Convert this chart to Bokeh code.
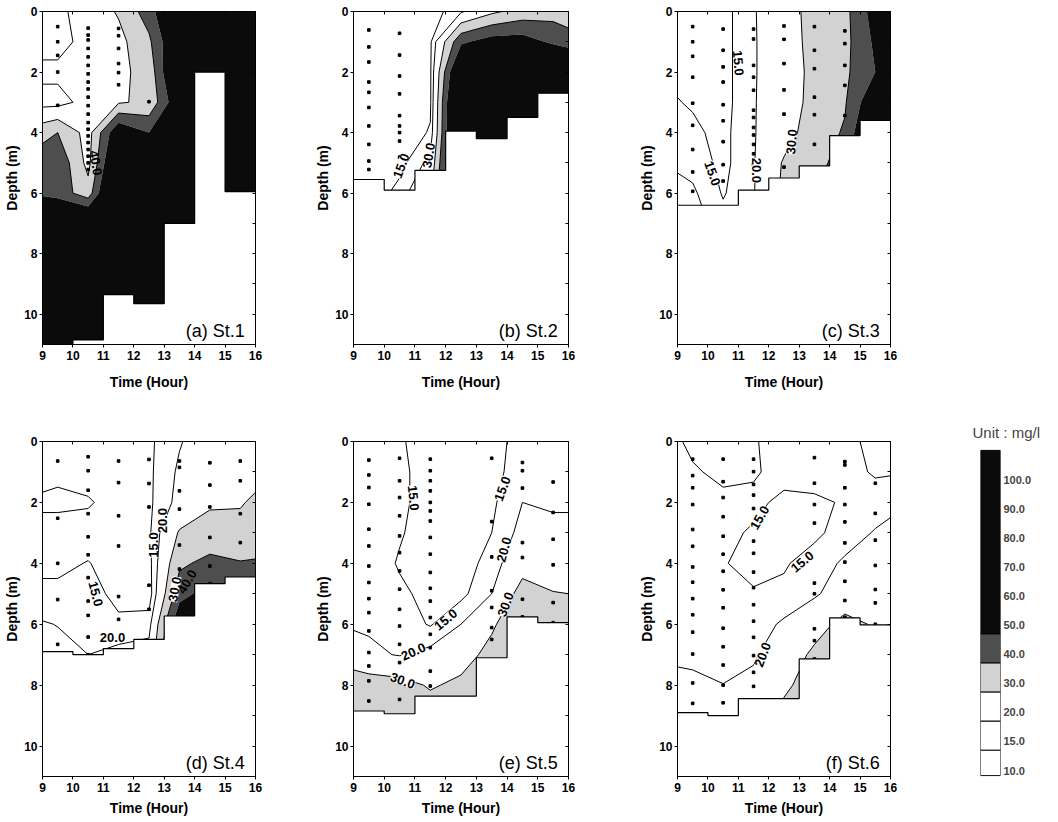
import numpy as np
from bokeh.plotting import figure
from bokeh.models import Range1d, LinearAxis, FixedTicker, Label, ColumnDataSource
from bokeh.layouts import row, column
from bokeh.embed import file_html
from bokeh.resources import INLINE
from bokeh.core.properties import value

FONT = "Liberation Sans"

# ---------------- data ----------------
grid_time = [9.0, 9.5, 10.5, 11.5, 12.5, 13.5, 14.5, 15.5, 16.0]
grid_depth = [0, 1, 2, 3, 4, 5, 6, 7, 8, 9, 10, 11]
hour_edges = [9, 10, 11, 12, 13, 14, 15, 16]
depth_ticks = [0, 2, 4, 6, 8, 10]
levels = [10, 15, 20, 30, 40, 50, 200]
legend_levels = [10.0, 15.0, 20.0, 30.0, 40.0, 50.0, 60.0, 70.0, 80.0, 90.0, 100.0]

# concentration (mg/l), rows = depth 0..11 m, cols = grid_time
st1_conc = [
    [18, 18, 24, 31, 45, 70, 80, 90, 90],
    [17, 17, 23, 27, 38, 65, 75, 80, 80],
    [22, 22, 24, 28, 33, 70, 80, 85, 85],
    [17, 17, 23, 29, 32, 60, 80, 85, 85],
    [36, 40, 26, 60, 50, 75, 85, 85, 85],
    [47, 48, 27, 70, 75, 80, 85, 85, 85],
    [48, 46, 34, 80, 85, 85, 85, 85, 85],
    [70, 70, 70, 85, 90, 90, 90, 90, 90],
    [85, 88, 90, 92, 95, 95, 95, 95, 95],
    [85, 88, 90, 92, 95, 95, 95, 95, 95],
    [85, 88, 90, 92, 95, 95, 95, 95, 95],
    [85, 88, 90, 92, 95, 95, 95, 95, 95],
]
st2_conc = [
    [11, 11, 11, 12, 19, 28, 34, 36, 34],
    [11, 11, 11, 14, 48, 55, 55, 48, 45],
    [11, 11, 12, 14, 70, 75, 75, 72, 70],
    [11, 11, 12, 14, 80, 85, 85, 80, 80],
    [11, 11, 11.5, 15.5, 80, 85, 85, 80, 80],
    [11, 11, 13, 22, 80, 85, 85, 80, 80],
    [11, 11, 17, 28, 80, 85, 85, 80, 80],
    [11, 11, 17, 28, 80, 85, 85, 80, 80],
    [11, 11, 17, 28, 80, 85, 85, 80, 80],
    [11, 11, 17, 28, 80, 85, 85, 80, 80],
    [11, 11, 17, 28, 80, 85, 85, 80, 80],
    [11, 11, 17, 28, 80, 85, 85, 80, 80],
]
st3_conc = [
    [13, 13, 13, 19.5, 25, 34, 37, 55, 60],
    [13, 13, 13, 19.5, 24, 34, 37, 52, 65],
    [14, 14, 13, 19.5, 24, 33, 38, 50, 70],
    [15.2, 14.5, 13, 19.5, 25, 33, 39, 60, 70],
    [17, 16, 13.5, 19.5, 26, 35, 41, 70, 75],
    [19, 18, 13.5, 19.5, 31, 36, 45, 75, 75],
    [22, 21, 14.5, 19.5, 32, 40, 50, 75, 75],
    [24, 23, 17, 20, 33, 40, 50, 75, 75],
    [24, 23, 17, 20, 33, 40, 50, 75, 75],
    [24, 23, 17, 20, 33, 40, 50, 75, 75],
    [24, 23, 17, 20, 33, 40, 50, 75, 75],
    [24, 23, 17, 20, 33, 40, 50, 75, 75],
]
st4_conc = [
    [13, 13, 13, 13, 14, 19.5, 24, 25, 25],
    [13, 14, 13, 13, 14, 21, 24, 26, 26],
    [16, 16, 15.5, 13, 14, 22, 29, 29, 32],
    [13, 13, 13, 13, 14, 31, 33, 34, 34],
    [14, 14, 15.2, 13, 13, 38, 43, 40.5, 41],
    [16, 16, 17, 13.5, 12, 46, 55, 50, 50],
    [20.5, 19.8, 18, 16, 17.5, 60, 60, 60, 60],
    [22, 22, 20, 22, 23, 60, 60, 60, 60],
    [25, 25, 25, 25, 25, 60, 60, 60, 60],
    [25, 25, 25, 25, 25, 60, 60, 60, 60],
    [25, 25, 25, 25, 25, 60, 60, 60, 60],
    [25, 25, 25, 25, 25, 60, 60, 60, 60],
]
st5_conc = [
    [17, 17, 15.5, 13, 12, 13, 17, 18, 18],
    [17, 17, 16, 13, 12, 13, 18, 19, 19],
    [17, 17, 16, 13, 12, 14, 20, 19.5, 19.5],
    [18, 18, 15.5, 12.5, 12, 15, 22, 21, 21],
    [18, 18, 14.5, 12.5, 12.5, 17, 26, 24, 23],
    [18, 18, 16, 13.5, 13.5, 20, 34, 30.5, 30],
    [19.5, 19, 18, 14.5, 20, 28.5, 38, 36, 35],
    [22, 21.5, 19.5, 22, 26, 33, 38, 36, 35],
    [38, 35, 33.5, 29, 32, 35, 38, 36, 35],
    [38, 36, 36, 35, 35, 35, 36, 36, 35],
    [36, 36, 36, 36, 36, 36, 36, 36, 36],
    [36, 36, 36, 36, 36, 36, 36, 36, 36],
]
st6_conc = [
    [15.5, 14, 13, 14.8, 16, 17, 16, 14, 14],
    [16, 15.5, 14, 14.5, 16.5, 17.5, 16.5, 14.5, 14.5],
    [16, 16, 16, 16, 14, 14, 15.5, 17, 18.5],
    [16, 16, 16, 14.5, 13.5, 14, 17, 20.5, 21.5],
    [16.5, 16.5, 15.2, 14, 14.5, 17, 21, 22, 22],
    [17, 17, 16, 15.3, 16, 19, 24, 24, 24],
    [17.5, 17.5, 17, 17, 21, 26, 33, 29, 29],
    [19, 19, 18, 19.2, 24, 32, 35, 29, 29],
    [21.5, 21, 20.1, 21.5, 28, 35, 35, 29, 29],
    [23, 23, 23, 23, 33, 36, 36, 36, 36],
    [23, 23, 23, 23, 33, 36, 36, 36, 36],
    [23, 23, 23, 23, 33, 36, 36, 36, 36],
]

# bottom (sea bed) depth for each hour interval 9-10 ... 15-16
st1_bed = [11.0, 10.85, 9.35, 9.65, 7.0, 2.0, 5.95]
st2_bed = [5.55, 5.9, 5.25, 3.95, 4.2, 3.5, 2.7]
st3_bed = [6.4, 6.4, 5.9, 5.5, 5.1, 4.1, 3.6]
st4_bed = [6.9, 7.0, 6.8, 6.5, 5.73, 4.67, 4.45]
st5_bed = [8.85, 8.94, 8.36, 8.36, 7.1, 5.76, 5.95]
st6_bed = [8.9, 9.0, 8.44, 8.44, 7.14, 5.79, 6.02]

# sampling points: time -> depths
st1_dots = {
    9.5: [0.5, 1.0, 1.45, 2.0, 3.1],
    10.5: [0.55, 0.78, 0.94, 1.22, 1.5, 1.78, 2.06, 2.33, 2.56, 2.83, 3.11, 3.39,
           3.67, 3.89, 4.11, 4.33, 4.56, 4.78, 5.0, 5.22],
    11.5: [0.56, 0.8, 1.22, 1.72, 2.02, 2.42],
    12.5: [2.98],
}
st2_dots = {
    9.5: [0.61, 1.17, 1.67, 2.33, 2.67, 3.17, 3.78, 4.39, 4.94, 5.22],
    10.5: [0.72, 1.44, 2.13, 2.72, 3.44, 3.78, 4.0, 4.28, 4.81, 5.17],
}
st3_dots = {
    9.5: [0.5, 1.0, 1.48, 2.17, 3.03, 3.76, 4.56, 5.3, 5.94],
    10.5: [0.58, 1.28, 1.83, 2.33, 3.08, 3.61, 4.3, 5.06, 5.6],
    11.5: [0.58, 0.91, 1.78, 2.17, 2.6, 3.26, 3.5, 3.83, 4.08, 4.39, 4.7, 5.06],
    12.5: [0.48, 0.92, 1.72, 2.59, 3.39, 5.14],
    13.5: [0.5, 1.28, 1.89, 2.83, 3.41, 4.39],
    14.5: [0.64, 1.06, 1.78, 2.44, 3.44],
}
st4_dots = {
    9.5: [0.64, 2.52, 4.0, 5.19, 6.66],
    10.5: [0.5, 0.96, 1.6, 2.37, 3.13, 3.72, 4.47, 5.24, 5.71, 6.42, 7.0],
    11.5: [0.64, 1.35, 2.44, 3.43, 5.09, 5.84],
    12.5: [0.59, 1.38, 2.15, 4.72, 5.51],
    13.5: [0.64, 0.85, 1.62, 2.22, 3.4, 4.19],
    14.5: [0.7, 1.43, 2.15, 3.15, 4.09],
    15.5: [0.64, 1.29, 2.37, 3.32],
}
st5_dots = {
    9.5: [0.61, 1.1, 1.51, 2.06, 2.88, 3.43, 4.09, 4.63, 5.16, 5.62, 6.22, 6.93, 7.37, 7.86, 8.52],
    10.5: [0.55, 1.29, 1.84, 2.44, 3.1, 3.65, 4.25, 4.85, 5.51, 6.06, 6.66, 7.26, 8.47],
    11.5: [0.58, 0.96, 1.29, 1.62, 2.0, 2.28, 2.61, 3.15, 3.7, 4.3, 4.82, 5.24, 5.78,
           6.33, 6.77, 7.54, 8.03],
    13.5: [0.55, 2.63, 3.79, 4.9, 5.45, 6.11, 6.5],
    14.5: [0.69, 0.96, 1.53, 3.32, 3.81, 5.18, 5.76],
    15.5: [1.33, 2.33, 3.21, 4.05, 5.29, 5.95],
}
st6_dots = {
    9.5: [0.58, 1.12, 1.52, 2.07, 2.89, 3.44, 4.12, 4.62, 5.16, 5.69, 6.26, 6.98, 7.93, 8.6],
    10.5: [0.58, 1.32, 1.84, 2.47, 3.11, 3.7, 4.26, 4.87, 5.46, 6.13, 6.74, 7.34, 8.0, 8.58],
    11.5: [0.58, 0.99, 1.41, 1.76, 2.2, 2.73, 3.27, 3.67, 4.29, 4.8, 5.36, 5.9, 6.43,
           7.03, 7.58, 8.04],
    13.5: [0.53, 1.37, 2.07, 2.68, 4.65, 5.0, 6.15, 6.54, 7.14],
    14.5: [0.66, 0.77, 1.52, 2.07, 2.64, 3.33, 3.96, 4.59, 5.22, 5.77],
    15.5: [1.37, 2.36, 3.24, 4.07, 4.86, 5.3, 6.0],
}

# contour labels: (time, depth, text, angle deg, white background)
st1_labels = [(10.75, 5.0, "40.0", -80, 0)]
st2_labels = [(10.55, 5.1, "15.0", 70, 1), (11.45, 4.75, "30.0", 80, 1)]
st3_labels = [(11.0, 1.7, "15.0", -85, 1), (10.15, 5.35, "15.0", -70, 1),
              (11.6, 5.25, "20.0", -90, 1), (12.75, 4.3, "30.0", 85, 1)]
st4_labels = [(10.75, 5.0, "15.0", -75, 1), (11.3, 6.45, "20.0", 0, 1),
              (12.65, 3.4, "15.0", 90, 1), (12.95, 2.6, "20.0", 90, 1),
              (13.35, 4.85, "30.0", 80, 1), (13.75, 4.6, "40.0", 60, 0)]
st5_labels = [(10.95, 1.85, "15.0", -85, 1), (13.85, 1.55, "15.0", 70, 1),
              (12.0, 5.85, "15.0", 40, 1), (10.95, 6.9, "20.0", 25, 1),
              (13.9, 3.55, "20.0", 75, 1), (10.6, 7.85, "30.0", -20, 1),
              (13.95, 5.35, "30.0", 70, 1)]
st6_labels = [(11.7, 2.5, "15.0", 60, 1), (13.1, 3.95, "15.0", 40, 1),
              (11.8, 7.0, "20.0", 70, 1)]

level_fill = ["white", "white", "white", "#d2d2d2", "#4e4e4e", "#0b0b0b"]
level_line_alpha = [0, 1, 1, 1, 1, 0, 0]

XLABEL = "Time (Hour)"


def bare_axis(ticks, tick_in, tick_out):
    return LinearAxis(ticker=FixedTicker(ticks=ticks), major_tick_in=tick_in,
                      major_tick_out=tick_out, minor_tick_in=0, minor_tick_out=0,
                      major_label_text_alpha=0, major_label_text_font_size="1px",
                      major_label_standoff=0, axis_line_color="black",
                      major_tick_line_color="black")


def panel(conc, bed, dots, clabels, tag, bl, br, bt, bb, fw, fh):
    p = figure(frame_width=fw, frame_height=fh, x_range=Range1d(9, 16), y_range=Range1d(11, 0),
               output_backend="svg", toolbar_location=None, title=None,
               x_axis_location=None,
               min_border_left=bl, min_border_right=br, min_border_top=bt, min_border_bottom=bb)
    p.grid.visible = False
    p.outline_line_color = "black"
    p.outline_line_alpha = 1.0
    p.background_fill_color = "white"
    p.border_fill_color = "white"

    p.contour(x=grid_time, y=grid_depth, z=np.array(conc, dtype=float), levels=levels,
              fill_color=level_fill, line_color="black", line_alpha=level_line_alpha,
              line_width=1)

    dx, dy = [], []
    for t, ds in dots.items():
        dx += [t] * len(ds)
        dy += ds
    p.scatter(dx, dy, marker="square", size=2.6, color="black")

    bed_y = bed + [bed[-1]]
    p.varea_step(x=hour_edges, y1=bed_y, y2=[11] * len(bed_y), step_mode="after",
                 fill_color="white")
    p.step(x=hour_edges, y=bed_y, mode="after", line_color="black", line_width=1.2)

    src = ColumnDataSource(dict(x=[c[0] for c in clabels], y=[c[1] for c in clabels],
                                text=[c[2] for c in clabels], angle=[c[3] for c in clabels],
                                bga=[c[4] for c in clabels]))
    p.text(x="x", y="y", text="text", angle="angle", angle_units="deg", source=src,
           text_font=value(FONT), text_font_style="bold", text_font_size="13px",
           text_align="center", text_baseline="middle", text_color="black",
           background_fill_color="white", background_fill_alpha="bga")

    p.add_layout(Label(x=15.65, y=10.55, text=tag, text_align="right",
                       text_baseline="alphabetic", text_font=FONT, text_font_size="18px",
                       text_color="black"))

    ya = p.yaxis[0]
    ya.ticker = FixedTicker(ticks=depth_ticks)
    ya.axis_label = "Depth (m)"
    ya.major_label_text_font = FONT
    ya.major_label_text_font_style = "bold"
    ya.major_label_text_font_size = "12px"
    ya.major_label_text_color = "black"
    ya.axis_label_text_font = FONT
    ya.axis_label_text_font_style = "bold"
    ya.axis_label_text_font_size = "14px"
    ya.axis_label_text_color = "black"
    ya.major_tick_in = 0
    ya.major_tick_out = 3
    ya.minor_tick_in = 0
    ya.minor_tick_out = 0
    ya.major_label_standoff = 2
    ya.axis_label_standoff = 1
    ya.axis_line_color = "black"

    p.add_layout(bare_axis(hour_edges, 0, 3), "below")
    p.add_layout(bare_axis(hour_edges, 3, 0), "above")
    p.add_layout(bare_axis(list(range(0, 12)), 3, 0), "right")
    return p


def xstrip(bl, br, fw, h, label_y):
    """Tick labels and x-axis title drawn under a panel, on the same time scale."""
    pad_px = 20
    pad = pad_px * 7.0 / fw
    s = figure(frame_width=fw + 2 * pad_px, frame_height=h,
               x_range=Range1d(9 - pad, 16 + pad), y_range=Range1d(h, 0),
               output_backend="svg", toolbar_location=None, title=None,
               x_axis_location=None, y_axis_location=None,
               min_border_left=bl - pad_px, min_border_right=br - pad_px,
               min_border_top=0, min_border_bottom=0)
    s.grid.visible = False
    s.outline_line_color = None
    s.text(x=hour_edges, y=[0] * len(hour_edges), text=[str(hh) for hh in hour_edges],
           text_font=value(FONT), text_font_style="bold", text_font_size="12px",
           text_align="center", text_baseline="top", text_color="black")
    s.text(x=[12.5], y=[label_y], text=[XLABEL], text_font=value(FONT),
           text_font_style="bold", text_font_size="14px", text_align="center",
           text_baseline="middle", text_color="black")
    return s


# column geometry: (left border, right border, frame width)
cols = [(42, 53, 213), (45, 64, 215), (45, 10, 213)]
ROW2_TOP, ROW2_FRAME, BOTTOM = 47, 335, 6

row1 = [panel(c, b, d, l, t, bl, br, 11, BOTTOM, fw, 333) for (c, b, d, l, t), (bl, br, fw) in zip(
    [(st1_conc, st1_bed, st1_dots, st1_labels, "(a) St.1"),
     (st2_conc, st2_bed, st2_dots, st2_labels, "(b) St.2"),
     (st3_conc, st3_bed, st3_dots, st3_labels, "(c) St.3")], cols)]
strip1 = [xstrip(bl, br, fw, 44, 31) for (bl, br, fw) in cols]

row2 = [panel(c, b, d, l, t, bl, br, ROW2_TOP, BOTTOM, fw, ROW2_FRAME)
        for (c, b, d, l, t), (bl, br, fw) in zip(
            [(st4_conc, st4_bed, st4_dots, st4_labels, "(d) St.4"),
             (st5_conc, st5_bed, st5_dots, st5_labels, "(e) St.5"),
             (st6_conc, st6_bed, st6_dots, st6_labels, "(f) St.6")], cols)]
strip2 = [xstrip(bl, br, fw, 36, 25) for (bl, br, fw) in cols]

# legend (unit bar): one unit of height per legend level, frame aligned with row 2
n = len(legend_levels)
px_unit = 29.1          # pixels per legend step
label0_off = 329        # pixels from frame top to the "10.0" label
band_shift = 0.3        # band edges sit a little below their labels
y_end = label0_off / px_unit
y_start = y_end - ROW2_FRAME / px_unit
leg = figure(frame_width=20, frame_height=ROW2_FRAME, x_range=Range1d(0, 1),
             y_range=Range1d(y_start, y_end), output_backend="svg",
             toolbar_location=None, x_axis_location=None, y_axis_location=None,
             min_border_left=80, min_border_right=40, min_border_top=ROW2_TOP,
             min_border_bottom=BOTTOM, title="Unit : mg/l")
leg.grid.visible = False
leg.outline_line_color = None
leg.title.text_font = FONT
leg.title.text_font_size = "15px"
leg.title.text_font_style = "normal"
leg.title.align = "left"
leg.title.offset = -8
leg.title.standoff = 2
band_bottom = [max(i - band_shift, y_start + 0.03) for i in range(len(level_fill))]
band_top = band_bottom[1:] + [n]
leg.quad(left=0, right=1, bottom=band_bottom, top=band_top, fill_color=level_fill,
         line_color="black", line_width=1)
lax = LinearAxis(ticker=FixedTicker(ticks=list(range(n))),
                 major_label_overrides={i: f"{v:.1f}" for i, v in enumerate(legend_levels)},
                 axis_line_color=None, major_tick_out=0, major_tick_in=0,
                 minor_tick_in=0, minor_tick_out=0,
                 major_label_text_font=FONT, major_label_text_font_style="bold",
                 major_label_text_font_size="11px", major_label_standoff=3)
leg.add_layout(lax, "right")

layout = column(row(*row1), row(*strip1), row(*row2, leg), row(*strip2))

open("out.html", "w").write(file_html(layout, INLINE))
